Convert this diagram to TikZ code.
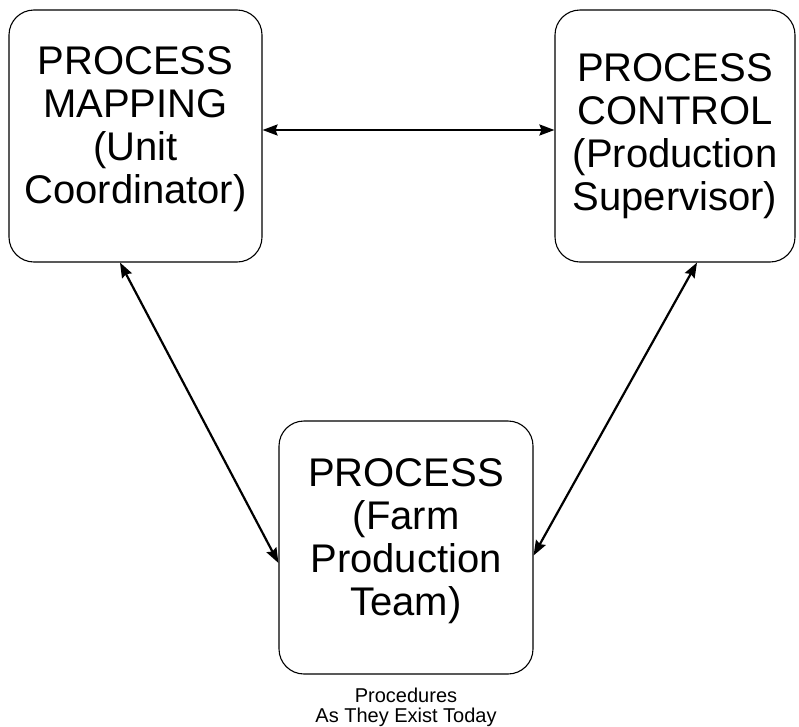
\documentclass[tikz,border=0pt]{standalone}
\usepackage{fontspec}
\setmainfont{Liberation Sans}
\usetikzlibrary{arrows.meta}

\tikzset{
  stage/.style={draw, line width=1.1pt, rounded corners=25pt, inner sep=0pt, align=center,
    font=\fontsize{40}{43}\selectfont, minimum height=252pt},
  link/.style={line width=2.2pt,
    {Stealth[length=15pt,width=11pt,inset=2pt]}-{Stealth[length=15pt,width=11pt,inset=2pt]}},
}

\begin{document}
\begin{tikzpicture}[x=1pt,y=-1pt]
  \useasboundingbox (0,0) rectangle (799,726);
  \node[stage, minimum width=253pt, text depth=21pt] (map) at (135.5,136) {PROCESS\\MAPPING\\(Unit\\Coordinator)};
  \node[stage, minimum width=240pt] (ctrl) at (675,136) {PROCESS\\CONTROL\\(Production\\Supervisor)};
  \node[stage, minimum width=254pt, minimum height=253pt, text depth=20pt] (proc) at (406,547.5) {PROCESS\\(Farm\\Production\\Team)};
  \node[font=\fontsize{20}{20}\selectfont, align=center, anchor=north, inner sep=0pt] (note)
    at ([yshift=-13pt]proc.south) {Procedures\\As They Exist Today};
  \draw[link] ([yshift=6pt]map.east) -- ([yshift=6pt]ctrl.west);
  \draw[link] ([xshift=-15.5pt]map.south) -- ([yshift=-15.5pt]proc.west);
  \draw[link] ([xshift=22pt]ctrl.south) -- ([yshift=-8pt]proc.east);
\end{tikzpicture}
\end{document}
